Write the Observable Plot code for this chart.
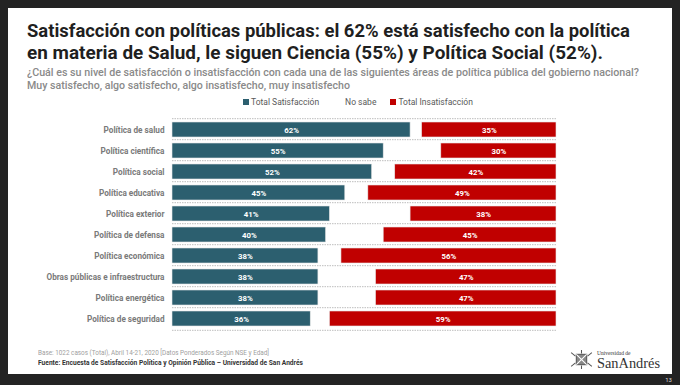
<!DOCTYPE html>
<html><head><meta charset="utf-8">
<script src="https://cdn.jsdelivr.net/npm/d3@7"></script>
<script src="https://cdn.jsdelivr.net/npm/@observablehq/plot@0.6"></script>
<style>
body{margin:0;width:680px;height:385px;background:#232323;position:relative;overflow:hidden;font-family:Roboto,"Open Sans",sans-serif}
.abs{position:absolute;white-space:nowrap}
.fit{display:inline-block;transform-origin:0 50%}
#slide{position:absolute;left:8px;top:8px;width:664px;height:366px;background:#fff}
.t{font-weight:700;font-size:19px;line-height:22px;color:#1f1f1f}
.s{font-weight:500;font-size:10.5px;line-height:13px;color:#8a8a8a}
.lg{font-size:8.5px;color:#595959;line-height:10px}
.sw{display:inline-block;width:6px;height:6px;margin-right:2px;vertical-align:0}
</style></head>
<body>
<div id="slide"></div>
<div class="abs t" style="left:27px;top:20px"><span class="fit" data-w="603">Satisfacción con políticas públicas: el 62% está satisfecho con la política</span></div>
<div class="abs t" style="left:27px;top:42px"><span class="fit" data-w="576">en materia de Salud, le siguen Ciencia (55%) y Política Social (52%).</span></div>
<div class="abs s" style="left:27px;top:66px"><span class="fit" data-w="612">¿Cuál es su nivel de satisfacción o insatisfacción con cada una de las siguientes áreas de política pública del gobierno nacional?</span></div>
<div class="abs s" style="left:27px;top:79px"><span class="fit" data-w="323">Muy satisfecho, algo satisfecho, algo insatisfecho, muy insatisfecho</span></div>
<div id="legend" class="abs lg" style="left:243px;top:97px"></div>
<div id="chart" class="abs" style="left:0;top:111px"></div>
<div class="abs" style="left:38px;top:349px;font-size:6.5px;color:#a0a0a0"><span class="fit" data-w="231">Base: 1022 casos (Total), Abril 14-21, 2020 [Datos Ponderados Según NSE y Edad]</span></div>
<div class="abs" style="left:38px;top:359px;font-size:6.5px;font-weight:700;color:#333"><span class="fit" data-w="265">Fuente: Encuesta de Satisfacción Política y Opinión Pública – Universidad de San Andrés</span></div>
<svg class="abs" style="left:568px;top:350px" width="27" height="19" viewBox="0 0 26 22">
<g stroke="#555" stroke-width="1.2" fill="none"><rect x="7" y="5" width="12" height="12" fill="#888"/><path d="M7 5L19 17M19 5L7 17" stroke="#fff"/><path d="M1 3l5 4M1 19l5-4M25 3l-5 4M25 19l-5-4M13 0v4M13 18v4"/></g></svg>
<div class="abs" style="left:597px;top:350px;font-family:'Liberation Serif','DejaVu Serif',serif;font-size:5.5px;color:#333">Universidad de</div>
<div class="abs" style="left:597px;top:356px;font-family:'Liberation Serif','DejaVu Serif',serif;font-size:14.5px;line-height:15px;color:#333"><span class="fit" data-w="63">SanAndrés</span></div>
<div class="abs" style="right:8px;top:376px;font-size:6px;color:#ddd">13</div>
<script>
const categorias = ["Política de salud","Política científica","Política social","Política educativa","Política exterior","Política de defensa","Política económica","Obras públicas e infraestructura","Política energética","Política de seguridad"];
const satisfaccion = [62,55,52,45,41,40,38,38,38,36];
const noSabe = [3,15,6,6,21,15,6,15,15,5];
const insatisfaccion = [35,30,42,49,38,45,56,47,47,59];
const series = ["Total Satisfacción","No sabe","Total Insatisfacción"];
const colores = ["#2c5f6f","#ffffff","#c00000"];

const rows = [];
categorias.forEach((c,i)=>{
  const vals=[satisfaccion[i],noSabe[i],insatisfaccion[i]];
  let acc=0;
  vals.forEach((v,j)=>{rows.push({cat:c,serie:series[j],value:v,x1:acc,x2:acc+v});acc+=v;});
});
const visibles = rows.filter(d=>d.serie!=="No sabe");

const H=226, step=H/categorias.length;
const chart = Plot.plot({
  width:680, height:H, marginLeft:172, marginRight:124, marginTop:0, marginBottom:0,
  style:{fontFamily:"Roboto, sans-serif", fontSize:"8.2px", fontWeight:"bold", color:"#7a7a7a", background:"transparent"},
  x:{domain:[0,100], axis:null},
  y:{domain:categorias, padding:0.28, label:null, tickSize:0, tickPadding:8},
  color:{domain:series, range:colores},
  marks:[
    Plot.ruleY(categorias,{y:d=>d, dy:-step/2, stroke:"#bdbdbd", strokeDasharray:"1.5,1", strokeWidth:1}),
    Plot.ruleY([categorias[categorias.length-1]],{y:d=>d, dy:step/2, stroke:"#bdbdbd", strokeDasharray:"1.5,1", strokeWidth:1}),
    Plot.barX(visibles,{x1:"x1",x2:"x2",y:"cat",fill:"serie",stroke:"#e8e8e8",strokeWidth:0.6}),
    Plot.text(visibles,{x:d=>(d.x1+d.x2)/2,y:"cat",text:d=>d.value+"%",fill:"white",fontSize:7.8,fontWeight:"bold"})
  ]
});
document.getElementById("chart").appendChild(chart);

const lg=document.getElementById("legend");
series.forEach((s,i)=>{
  const sp=document.createElement("span");
  sp.style.marginRight= i===0?"18px":"14px";
  sp.innerHTML=`<span class="sw" style="background:${colores[i]}"></span>${s}`;
  lg.appendChild(sp);
});

function fitAll(){
  document.querySelectorAll(".fit").forEach(el=>{
    el.style.transform="none";
    const w=el.getBoundingClientRect().width;
    const t=+el.dataset.w;
    if(w>0) el.style.transform=`scaleX(${t/w})`;
  });
}
fitAll();
if(document.fonts&&document.fonts.ready) document.fonts.ready.then(fitAll);
</script>
</body></html>
